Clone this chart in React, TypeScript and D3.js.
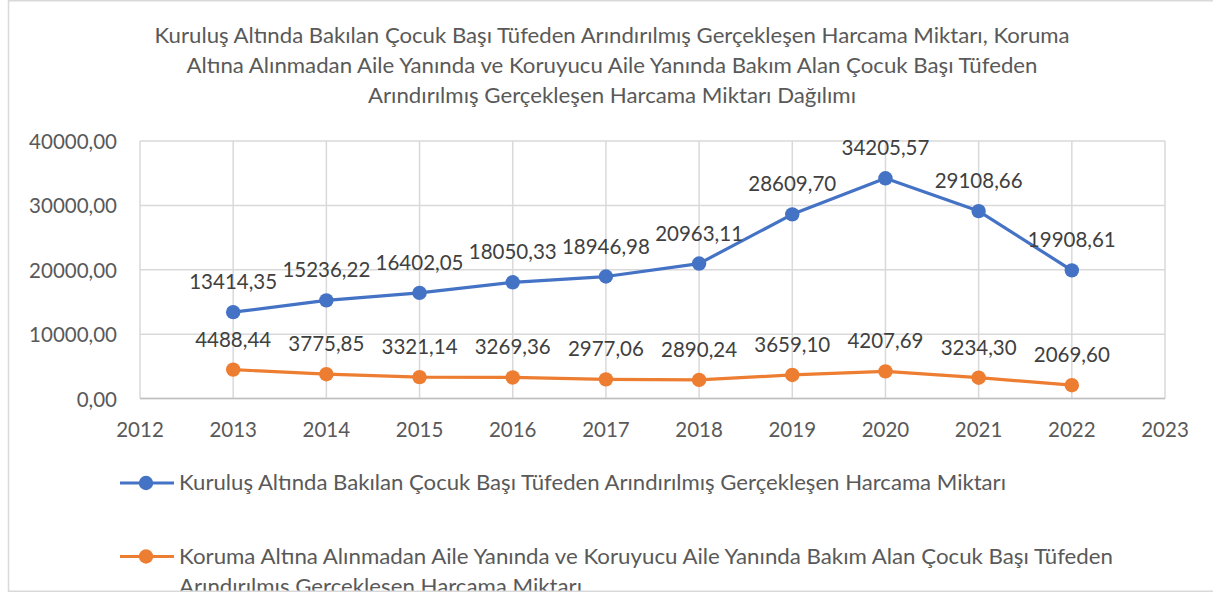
import React from "react";
import * as d3 from "d3";

const titleLines = [
  "Kuruluş Altında Bakılan Çocuk Başı Tüfeden Arındırılmış Gerçekleşen Harcama Miktarı, Koruma",
  "Altına Alınmadan Aile Yanında ve Koruyucu Aile Yanında Bakım Alan Çocuk Başı Tüfeden",
  "Arındırılmış Gerçekleşen Harcama Miktarı Dağılımı",
];
const titleWidths = [915, 851, 488];
const years = [2013, 2014, 2015, 2016, 2017, 2018, 2019, 2020, 2021, 2022];
const kurulus = [13414.35, 15236.22, 16402.05, 18050.33, 18946.98, 20963.11, 28609.7, 34205.57, 29108.66, 19908.61];
const koruma = [4488.44, 3775.85, 3321.14, 3269.36, 2977.06, 2890.24, 3659.1, 4207.69, 3234.3, 2069.6];
const xTicks = [2012, 2013, 2014, 2015, 2016, 2017, 2018, 2019, 2020, 2021, 2022, 2023];
const yTicks = [0, 10000, 20000, 30000, 40000];
const legendBlue = ["Kuruluş Altında Bakılan Çocuk Başı Tüfeden Arındırılmış Gerçekleşen Harcama Miktarı"];
const legendBlueWidths = [827];
const legendOrange = [
  "Koruma Altına Alınmadan Aile Yanında ve Koruyucu Aile Yanında Bakım Alan Çocuk Başı Tüfeden",
  "Arındırılmış Gerçekleşen Harcama Miktarı",
];
const legendOrangeWidths = [934, 403];

const W = 1213;
const H = 594;
const FONT = "Lato, 'Open Sans', sans-serif";
const fmt = (v: number) => v.toFixed(2).replace(".", ",");

export default function App() {
  const x = d3.scaleLinear().domain([2012, 2023]).range([140, 1165]);
  const y = d3.scaleLinear().domain([0, 40000]).range([398.5, 141]);
  const line = d3
    .line<number>()
    .x((_, i) => x(years[i]))
    .y((d) => y(d));

  const series = [
    { name: legendBlue, widths: legendBlueWidths, values: kurulus, color: "#4472C4" },
    { name: legendOrange, widths: legendOrangeWidths, values: koruma, color: "#ED7D31" },
  ];

  return (
    <div style={{ position: "absolute", left: 0, top: 0 }}>
      <svg width={W} height={H} style={{ display: "block", fontFamily: FONT }}>
        <defs>
          <clipPath id="frame">
            <rect x={8} y={0} width={W} height={591} />
          </clipPath>
        </defs>
        <rect x={0} y={0} width={W} height={H} fill="#fff" />
        <g clipPath="url(#frame)">
          {/* title */}
          {titleLines.map((t, i) => (
            <text
              key={i}
              x={612}
              y={43 + i * 30}
              textAnchor="middle"
              fontSize={20.5}
              fill="#595959"
              textLength={titleWidths[i]}
              lengthAdjust="spacingAndGlyphs"
            >
              {t}
            </text>
          ))}
          {/* gridlines */}
          {yTicks.map((t) => (
            <line key={"h" + t} x1={140} x2={1165} y1={y(t)} y2={y(t)} stroke="#d9d9d9" strokeWidth={1.5} />
          ))}
          {xTicks.map((t) => (
            <line key={"v" + t} x1={x(t)} x2={x(t)} y1={y(40000)} y2={y(0)} stroke="#d9d9d9" strokeWidth={1.5} />
          ))}
          <line x1={140} x2={1165} y1={y(0)} y2={y(0)} stroke="#bfbfbf" strokeWidth={1.5} />
          {/* y labels */}
          {yTicks.map((t) => (
            <text key={"yl" + t} x={117} y={y(t) + 8} textAnchor="end" fontSize={20.5} fill="#595959">
              {fmt(t)}
            </text>
          ))}
          {/* x labels */}
          {xTicks.map((t) => (
            <text key={"xl" + t} x={x(t)} y={437} textAnchor="middle" fontSize={20.5} fill="#595959">
              {t}
            </text>
          ))}
          {/* series */}
          {series.map((s, si) => (
            <g key={"s" + si}>
              <path d={line(s.values) || ""} fill="none" stroke={s.color} strokeWidth={3.2} strokeLinejoin="round" />
              {s.values.map((v, i) => (
                <circle key={i} cx={x(years[i])} cy={y(v)} r={7.2} fill={s.color} />
              ))}
              {s.values.map((v, i) => (
                <text key={"l" + i} x={x(years[i])} y={y(v) - 23} textAnchor="middle" fontSize={20.5} fill="#404040">
                  {fmt(v)}
                </text>
              ))}
            </g>
          ))}
          {/* legend */}
          {series.map((s, si) => {
            const ly = si === 0 ? 483 : 556.5;
            return (
              <g key={"lg" + si}>
                <line x1={120} x2={174} y1={ly} y2={ly} stroke={s.color} strokeWidth={3.2} />
                <circle cx={146} cy={ly} r={7.2} fill={s.color} />
                {s.name.map((t, j) => (
                  <text
                    key={j}
                    x={179}
                    y={ly + 7 + j * 30}
                    fontSize={20.5}
                    fill="#595959"
                    textLength={s.widths[j]}
                    lengthAdjust="spacingAndGlyphs"
                  >
                    {t}
                  </text>
                ))}
              </g>
            );
          })}
        </g>
        {/* chart border */}
        <rect x={8.5} y={0.75} width={W + 10} height={590.5} fill="none" stroke="#d9d9d9" strokeWidth={1.5} />
      </svg>
    </div>
  );
}
